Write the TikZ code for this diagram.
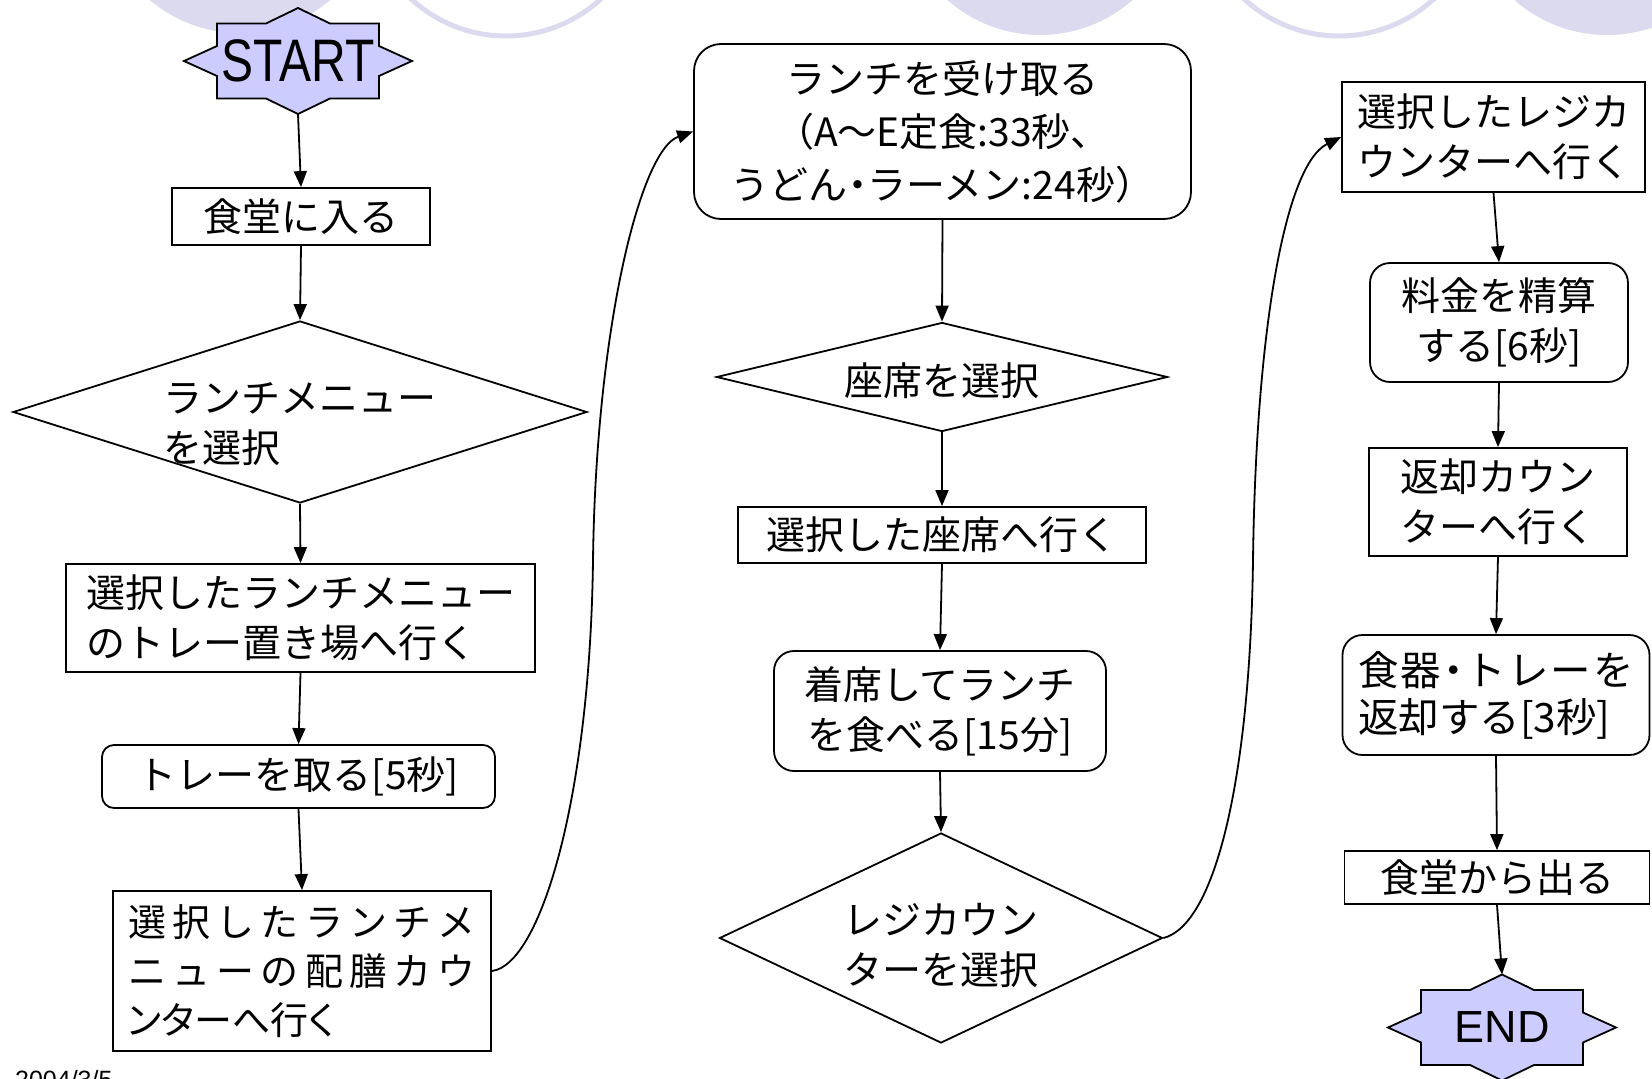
\documentclass[tikz,border=0pt]{standalone}
\usepackage{fontspec}
\usepackage{graphicx}
\setmainfont{Noto Sans CJK JP}
\newfontfamily\latinfont{Liberation Sans}
\newfontfamily\jphalt[RawFeature=+halt]{Noto Sans CJK JP}
\newfontfamily\jppalt[RawFeature=+palt]{Noto Sans CJK JP}
\usetikzlibrary{shapes.geometric,arrows.meta}
\definecolor{bgcirc}{RGB}{219,218,238}
\definecolor{starfill}{RGB}{204,204,255}
\newcommand\hd{{\jphalt ・}}
\newcommand\jpfont{\fontsize{39}{50}\selectfont}
\tikzset{
  box/.style={draw, line width=1.8pt, inner sep=0pt, align=center, font=\jpfont},
  rbox/.style={box, rounded corners=20pt},
  dia/.style={draw, diamond, line width=1.8pt, inner sep=0pt},
  arr/.style={line width=1.8pt, -{Triangle[length=16pt,width=13pt]}},
  starpoly/.style={draw, fill=starfill, line width=1.8pt, line join=miter}
}
\begin{document}
\begin{tikzpicture}[x=1pt,y=-1pt]
\useasboundingbox (0,0) rectangle (1652,1079);
% background circles
\begin{scope}
\clip (0,0) rectangle (1652,1079);
\fill[bgcirc] (240,-107) circle (140);
\fill[bgcirc] (1040,-105) circle (140);
\fill[bgcirc] (1607,-105) circle (140);
\draw[bgcirc, line width=5pt] (506,-104) circle (140);
\draw[bgcirc, line width=5pt] (1339,-104) circle (140);
\end{scope}
% START
\begin{scope}[shift={(298,61)}]
\draw[starpoly] (-81,-37.5) -- (-32,-37.5) -- (0,-53) -- (32,-37.5) -- (81,-37.5) -- (81,-15) -- (114,0) -- (81,15) -- (81,37.5) -- (32,37.5) -- (0,53) -- (-32,37.5) -- (-81,37.5) -- (-81,15) -- (-114,0) -- (-81,-15) -- cycle;
\end{scope}
\node[inner sep=0pt, font=\latinfont\fontsize{60}{60}\selectfont] (startn) at (298,61) {\scalebox{0.8}[1]{START}};
% END
\begin{scope}[shift={(1502,1027.5)}]
\draw[starpoly] (-81,-37.5) -- (-32,-37.5) -- (0,-53) -- (32,-37.5) -- (81,-37.5) -- (81,-15) -- (114,0) -- (81,15) -- (81,37.5) -- (32,37.5) -- (0,53) -- (-32,37.5) -- (-81,37.5) -- (-81,15) -- (-114,0) -- (-81,-15) -- cycle;
\end{scope}
\node[inner sep=0pt, font=\latinfont\fontsize{45}{45}\selectfont] (endn) at (1502,1027.5) {END};

% column 1
\node[box, minimum width=258pt, minimum height=57pt] (n1) at (301,216.5) {食堂に入る};
\node[dia, minimum width=574pt, minimum height=182pt,
  label={[font=\jpfont, align=left, yshift=-12pt]center:{ランチメニュー\\を選択}}] (d1) at (300,412) {};
\node[box, minimum width=469pt, minimum height=108pt, align=left] (n2) at (300.5,618) {選択したランチメニュー\\のトレー置き場へ行く};
\node[rbox, rounded corners=12pt, minimum width=393pt, minimum height=63pt] (n3) at (298.5,776.5) {トレーを取る[5秒]};
\node[box, minimum width=378pt, minimum height=160pt, align=left, font=\fontsize{38}{49}\selectfont] (n4) at (302,971) {\makebox[348pt][s]{選\hfill 択\hfill し\hfill た\hfill ラ\hfill ン\hfill チ\hfill メ}\\\makebox[348pt][s]{ニ\hfill ュ\hfill ー\hfill の\hfill 配\hfill 膳\hfill カ\hfill ウ}\\\makebox[348pt][l]{\jppalt ンターへ行く}};

% column 2
\node[rbox, rounded corners=27pt, minimum width=497pt, minimum height=175pt, font=\fontsize{39}{53}\selectfont] (n5) at (942.5,131.5) {ランチを受け取る\\（A～E定食:33秒、\\うどん\hd ラーメン:24秒）};
\node[dia, minimum width=451pt, minimum height=109pt,
  label={[font=\jpfont, yshift=-4pt]center:座席を選択}] (d2) at (942,377) {};
\node[box, minimum width=408pt, minimum height=56pt] (n6) at (942,535) {選択した座席へ行く};
\node[rbox, minimum width=332pt, minimum height=120pt] (n7) at (940,711) {着席してランチ\\を食べる[15分]};
\node[dia, minimum width=443pt, minimum height=210pt,
  label={[font=\jpfont, align=left, yshift=-7pt]center:{レジカウン\\ターを選択}}] (d3) at (941,938) {};

% column 3
\node[box, minimum width=303pt, minimum height=110pt, align=left] (n8) at (1493.5,137) {選択したレジカ\\ウンターへ行く};
\node[rbox, minimum width=258pt, minimum height=119pt] (n9) at (1499,322.5) {料金を精算\\する[6秒]};
\node[box, minimum width=258pt, minimum height=108pt] (n10) at (1498,502) {返却カウン\\ターへ行く};
\node[rbox, minimum width=307pt, minimum height=120pt, align=left, font=\fontsize{40.5}{47}\selectfont] (n11) at (1496,695) {\makebox[276pt][s]{食\hfill 器\hfill \hd\hfill ト\hfill レ\hfill ー\hfill を}\\返却する[3秒]};
\node[box, minimum width=305pt, minimum height=53pt] (n12) at (1497,877.5) {食堂から出る};

% date
\node[font=\latinfont\fontsize{25}{25}\selectfont, anchor=base west, inner sep=0pt] (date) at (15,1088) {2004/3/5};

% connectors
\coordinate (c1) at (593,560);
\coordinate (c2) at (1253,560);
\draw[arr] ([yshift=-53pt]startn.center) -- (n1.north);
\draw[arr] (n1.south) -- (d1.north);
\draw[arr] (d1.south) -- (n2.north);
\draw[arr] (n2.south) -- (n3.north);
\draw[arr] (n3.south) -- (n4.north);
\draw[arr] (n4.east) .. controls (540,965) and (590,800) .. (c1) .. controls (596,330) and (640,150) .. (n5.west);
\draw[arr] (n5.south) -- (d2.north);
\draw[arr] (d2.south) -- (n6.north);
\draw[arr] (n6.south) -- (n7.north);
\draw[arr] (n7.south) -- (d3.north);
\draw[arr] (d3.east) .. controls (1215,925) and (1250,780) .. (c2) .. controls (1256,330) and (1285,165) .. (n8.west);
\draw[arr] (n8.south) -- (n9.north);
\draw[arr] (n9.south) -- (n10.north);
\draw[arr] (n10.south) -- (n11.north);
\draw[arr] (n11.south) -- (n12.north);
\draw[arr] (n12.south) -- ([yshift=53pt]endn.center);
\end{tikzpicture}
\end{document}
